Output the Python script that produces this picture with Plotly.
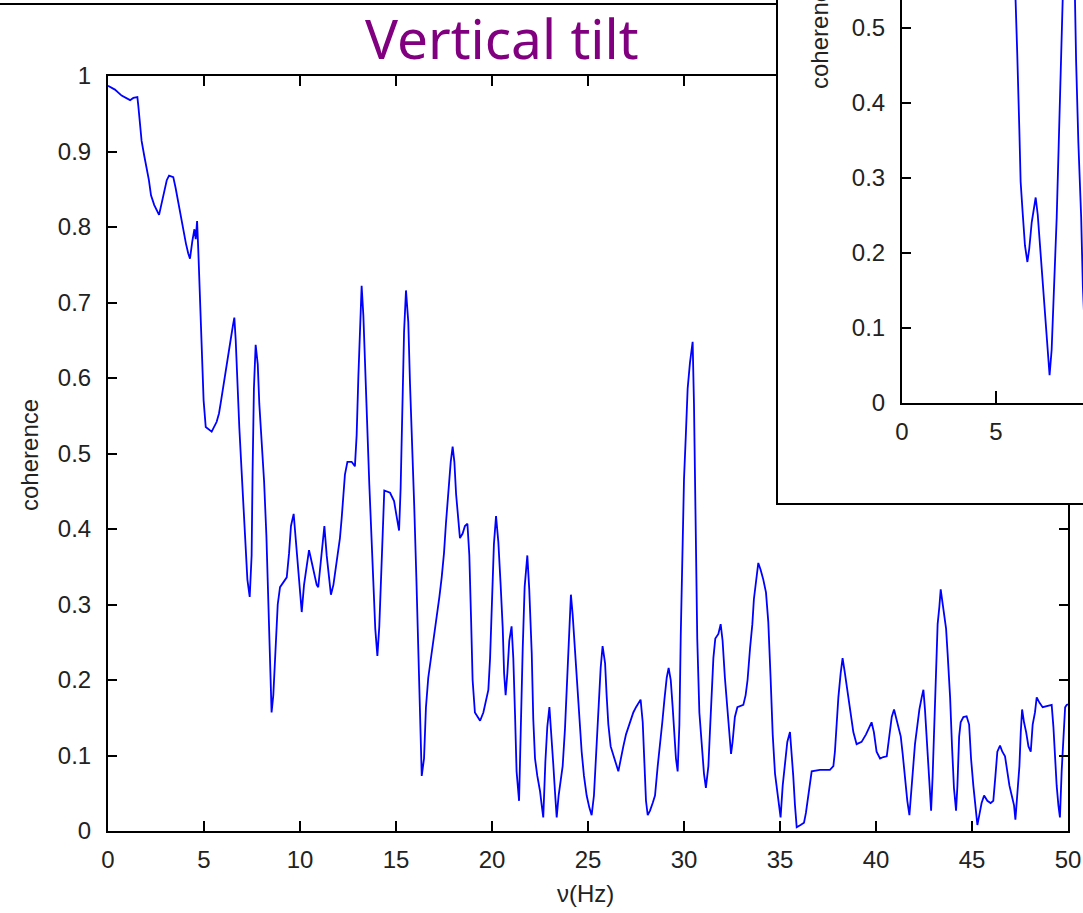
import plotly.graph_objects as go

# ---------------- data ----------------
freq = [0.0, 0.36, 0.71, 1.15, 1.32, 1.53, 1.58, 1.65, 1.75, 1.89, 2.01, 2.13, 2.24, 2.41, 2.66, 2.80,
        2.93, 3.06, 3.18, 3.40, 3.52, 3.66, 3.80, 3.92, 4.06, 4.18, 4.27, 4.39, 4.50, 4.57, 4.64, 4.70,
        4.79, 4.88, 4.98, 5.09, 5.40, 5.66, 5.78, 5.89, 6.00, 6.13, 6.27, 6.39, 6.51, 6.58, 6.65, 6.74,
        6.84, 6.96, 7.05, 7.14, 7.26, 7.38, 7.48, 7.53, 7.60, 7.69, 7.80, 7.88, 8.00, 8.13, 8.25, 8.35,
        8.44, 8.52, 8.61, 8.73, 8.84, 8.96, 9.31, 9.43, 9.53, 9.67, 9.83, 10.0, 10.09, 10.21, 10.35, 10.47,
        10.56, 10.69, 10.87, 10.95, 11.08, 11.18, 11.27, 11.39, 11.51, 11.61, 11.74, 11.86, 11.96, 12.08,
        12.17, 12.26, 12.34, 12.47, 12.69, 12.86, 12.95, 13.04, 13.13, 13.21, 13.30, 13.39, 13.51, 13.61,
        13.70, 13.82, 13.92, 14.03, 14.13, 14.22, 14.31, 14.39, 14.69, 14.90, 15.03, 15.16, 15.24, 15.33,
        15.42, 15.52, 15.64, 15.73, 15.85, 15.95, 16.06, 16.16, 16.25, 16.34, 16.46, 16.56, 16.68, 16.81,
        16.91, 17.03, 17.15, 17.26, 17.38, 17.50, 17.60, 17.73, 17.85, 17.95, 18.04, 18.13, 18.25, 18.33,
        18.47, 18.59, 18.72, 18.82, 18.91, 18.99, 19.11, 19.38, 19.55, 19.67, 19.81, 19.90, 19.98, 20.10,
        20.21, 20.33, 20.45, 20.56, 20.63, 20.71, 20.80, 20.90, 21.02, 21.11, 21.20, 21.28, 21.41, 21.51,
        21.60, 21.70, 21.84, 21.94, 22.07, 22.15, 22.24, 22.36, 22.50, 22.59, 22.67, 22.78, 22.88, 22.99,
        23.07, 23.19, 23.30, 23.37, 23.47, 23.58, 23.68, 23.80, 23.92, 24.03, 24.11, 24.20, 24.32, 24.44,
        24.55, 24.67, 24.79, 24.93, 25.07, 25.19, 25.31, 25.42, 25.54, 25.66, 25.76, 25.89, 25.97, 26.06,
        26.18, 26.32, 26.46, 26.58, 26.70, 26.84, 26.98, 27.10, 27.22, 27.36, 27.50, 27.62, 27.74, 27.85,
        27.93, 28.02, 28.11, 28.23, 28.37, 28.49, 28.63, 28.75, 28.87, 28.98, 29.10, 29.20, 29.31, 29.41,
        29.50, 29.58, 29.67, 29.76, 29.83, 29.91, 30.00, 30.09, 30.19, 30.31, 30.45, 30.52, 30.61, 30.69,
        30.80, 30.92, 31.04, 31.14, 31.27, 31.35, 31.44, 31.53, 31.63, 31.79, 31.91, 32.01, 32.13, 32.26,
        32.36, 32.45, 32.53, 32.65, 32.78, 33.09, 33.21, 33.31, 33.44, 33.56, 33.64, 33.75, 33.87, 33.99,
        34.13, 34.27, 34.39, 34.51, 34.62, 34.74, 34.86, 34.95, 35.03, 35.14, 35.26, 35.38, 35.52, 35.61,
        35.69, 35.78, 35.87, 36.07, 36.25, 36.35, 36.44, 36.53, 36.65, 37.08, 37.60, 37.78, 37.86, 37.95,
        38.04, 38.16, 38.26, 38.38, 38.50, 38.61, 38.73, 38.82, 38.99, 39.25, 39.48, 39.65, 39.77, 39.89,
        40.03, 40.21, 40.38, 40.56, 40.70, 40.82, 40.94, 41.04, 41.17, 41.29, 41.39, 41.51, 41.63, 41.74,
        41.86, 41.95, 42.03, 42.16, 42.26, 42.38, 42.47, 42.55, 42.68, 42.78, 42.87, 42.95, 43.04, 43.13,
        43.21, 43.30, 43.37, 43.46, 43.54, 43.65, 43.73, 43.86, 43.96, 44.06, 44.17, 44.24, 44.33, 44.41,
        44.55, 44.72, 44.85, 44.95, 45.07, 45.19, 45.28, 45.38, 45.50, 45.63, 45.80, 45.97, 46.11, 46.22,
        46.32, 46.46, 46.58, 46.72, 46.84, 46.95, 47.07, 47.19, 47.26, 47.36, 47.47, 47.54, 47.61, 47.71,
        47.82, 47.94, 48.06, 48.16, 48.28, 48.37, 48.51, 48.68, 48.89, 49.15, 49.24, 49.33, 49.41, 49.50,
        49.58, 49.67, 49.76, 49.85, 49.93, 50.0]

coherence = [0.987, 0.982, 0.974, 0.968, 0.971, 0.972, 0.960, 0.937, 0.914, 0.894, 0.878, 0.862, 0.842, 0.829, 0.816, 0.833,
             0.849, 0.862, 0.868, 0.866, 0.852, 0.833, 0.813, 0.794, 0.778, 0.765, 0.758, 0.781, 0.797, 0.784, 0.808, 0.771,
             0.706, 0.638, 0.570, 0.535, 0.529, 0.542, 0.553, 0.570, 0.589, 0.610, 0.631, 0.651, 0.670, 0.680, 0.651, 0.592,
             0.534, 0.476, 0.427, 0.381, 0.333, 0.310, 0.365, 0.476, 0.586, 0.644, 0.618, 0.566, 0.515, 0.463, 0.391, 0.297,
             0.206, 0.157, 0.180, 0.238, 0.300, 0.323, 0.336, 0.368, 0.404, 0.420, 0.372, 0.325, 0.290, 0.326, 0.355, 0.372,
             0.362, 0.346, 0.326, 0.323, 0.359, 0.388, 0.404, 0.365, 0.339, 0.313, 0.326, 0.346, 0.368, 0.388,
             0.414, 0.443, 0.472, 0.489, 0.489, 0.483, 0.524, 0.602, 0.683, 0.722, 0.683, 0.605, 0.531, 0.459,
             0.394, 0.330, 0.268, 0.232, 0.271, 0.342, 0.417, 0.451, 0.448, 0.437, 0.417, 0.398, 0.453, 0.557,
             0.661, 0.716, 0.674, 0.592, 0.509, 0.430, 0.336, 0.232, 0.128, 0.073, 0.096, 0.164, 0.203, 0.226,
             0.243, 0.263, 0.284, 0.310, 0.336, 0.368, 0.407, 0.450, 0.489, 0.509, 0.489, 0.446, 0.407, 0.388,
             0.394, 0.404, 0.407, 0.365, 0.281, 0.200, 0.157, 0.146, 0.157, 0.170, 0.187, 0.229, 0.300, 0.380,
             0.417, 0.383, 0.326, 0.268, 0.209, 0.180, 0.209, 0.252, 0.271, 0.229, 0.154, 0.079, 0.040, 0.161,
             0.242, 0.323, 0.365, 0.320, 0.235, 0.148, 0.096, 0.073, 0.053, 0.034, 0.018, 0.092, 0.138, 0.164,
             0.138, 0.089, 0.044, 0.018, 0.047, 0.066, 0.086, 0.135, 0.203, 0.278, 0.313, 0.287, 0.238, 0.190,
             0.141, 0.105, 0.073, 0.047, 0.031, 0.021, 0.047, 0.105, 0.161, 0.216, 0.245, 0.222, 0.180, 0.141,
             0.112, 0.099, 0.089, 0.079, 0.096, 0.112, 0.128, 0.138, 0.148, 0.157, 0.164, 0.170, 0.174, 0.144,
             0.092, 0.040, 0.021, 0.027, 0.037, 0.047, 0.086, 0.112, 0.144, 0.174, 0.203, 0.216, 0.200, 0.164,
             0.118, 0.096, 0.079, 0.141, 0.258, 0.381, 0.466, 0.521, 0.586, 0.620, 0.648, 0.566, 0.411, 0.255,
             0.157, 0.115, 0.076, 0.057, 0.086, 0.131, 0.180, 0.229, 0.255, 0.261, 0.274, 0.252, 0.203, 0.164,
             0.125, 0.102, 0.118, 0.151, 0.164, 0.167, 0.180, 0.200, 0.242, 0.274, 0.307, 0.333, 0.355, 0.346,
             0.333, 0.316, 0.277, 0.203, 0.128, 0.076, 0.053, 0.034, 0.018, 0.060, 0.089, 0.118, 0.131, 0.105,
             0.073, 0.034, 0.005, 0.008, 0.011, 0.024, 0.040, 0.063, 0.079, 0.081, 0.081, 0.086, 0.105, 0.141,
             0.177, 0.209, 0.229, 0.209, 0.187, 0.164, 0.144, 0.131, 0.115, 0.118, 0.128, 0.138, 0.144, 0.131,
             0.105, 0.096, 0.098, 0.099, 0.125, 0.151, 0.161, 0.151, 0.138, 0.125, 0.102, 0.070, 0.040, 0.021,
             0.060, 0.086, 0.115, 0.141, 0.161, 0.177, 0.187, 0.161, 0.099, 0.060, 0.027, 0.073, 0.135, 0.209,
             0.274, 0.297, 0.320, 0.303, 0.287, 0.268, 0.235, 0.177, 0.112, 0.057, 0.027, 0.060, 0.125, 0.144,
             0.151, 0.152, 0.141, 0.096, 0.060, 0.034, 0.008, 0.021, 0.037, 0.047, 0.040, 0.037, 0.040, 0.073,
             0.105, 0.113, 0.105, 0.099, 0.079, 0.060, 0.047, 0.034, 0.015, 0.053, 0.086, 0.131, 0.161, 0.144,
             0.131, 0.112, 0.105, 0.141, 0.157, 0.177, 0.170, 0.164, 0.165, 0.167, 0.138, 0.092, 0.060, 0.034,
             0.018, 0.079, 0.118, 0.164, 0.167, 0.168]

inset_freq = [5.90, 6.06, 6.13, 6.24, 6.31, 6.42, 6.54, 6.67, 6.77, 6.90, 7.02, 7.11, 7.22, 7.34, 7.46,
              7.59, 7.70, 7.78, 7.85, 7.96, 8.05, 8.14, 8.23, 8.33, 8.44, 8.55, 8.75, 9.00, 9.20, 9.26,
              9.38, 9.53, 9.62, 9.75]
inset_coherence = [0.650, 0.540, 0.466, 0.366, 0.295, 0.253, 0.210, 0.188, 0.206, 0.241, 0.264, 0.274, 0.251, 0.210, 0.170,
                   0.130, 0.093, 0.060, 0.037, 0.071, 0.128, 0.190, 0.248, 0.339, 0.460, 0.540, 0.620, 0.620, 0.540, 0.457,
                   0.348, 0.248, 0.155, 0.080]

main_xticks = [0, 5, 10, 15, 20, 25, 30, 35, 40, 45, 50]
main_yticks = [0, 0.1, 0.2, 0.3, 0.4, 0.5, 0.6, 0.7, 0.8, 0.9, 1]
inset_xticks = [0, 5, 10]
inset_yticks = [0, 0.1, 0.2, 0.3, 0.4, 0.5]

title_text = "Vertical tilt"
ylabel = "coherence"
xlabel = "ν(Hz)"

# ---------------- layout helpers ----------------
W, H = 1083, 913


def px(x):
    return x / W


def py(y):
    return (H - y) / H


TICK_FONT = dict(family="Liberation Sans, Arial, sans-serif", size=24, color="#222222")
LABEL_FONT = dict(family="Liberation Sans, Arial, sans-serif", size=24, color="#222222")

fig = go.Figure()
fig.add_trace(go.Scatter(x=freq, y=coherence, mode="lines",
                         line=dict(color="#0000ff", width=1.8),
                         xaxis="x", yaxis="y", showlegend=False, hoverinfo="skip"))
# empty trace to create the white cover panel of the inset
fig.add_trace(go.Scatter(x=[], y=[], xaxis="x2", yaxis="y2", showlegend=False, hoverinfo="skip"))
fig.add_trace(go.Scatter(x=inset_freq, y=inset_coherence, mode="lines",
                         line=dict(color="#0000ff", width=1.8),
                         xaxis="x3", yaxis="y3", showlegend=False, hoverinfo="skip"))

axis_common = dict(showgrid=False, zeroline=False, showline=True, linecolor="black", linewidth=2,
                   ticks="inside", tickcolor="black", tickwidth=1.5, tickfont=TICK_FONT,
                   automargin=False)
cover_common = dict(showgrid=False, zeroline=False, showline=True, linecolor="black", linewidth=2,
                    showticklabels=False, ticks="", automargin=False, range=[0, 1])

fig.update_layout(
    width=W, height=H,
    margin=dict(l=0, r=0, t=0, b=0, autoexpand=False),
    paper_bgcolor="white", plot_bgcolor="white",
    showlegend=False,
    xaxis=dict(domain=[px(108), px(1068)], range=[0, 50], tickvals=main_xticks,
               ticklen=10, mirror="ticks", anchor="y", ticklabelstandoff=6, **axis_common),
    yaxis=dict(domain=[py(831), py(76)], range=[0, 1], tickvals=main_yticks,
               ticklen=9, mirror="ticks", anchor="x", ticklabelstandoff=10, **axis_common),
    xaxis2=dict(domain=[px(778), 1.0], anchor="y2", **cover_common),
    yaxis2=dict(domain=[py(503), 1.0], anchor="x2", **cover_common),
    xaxis3=dict(domain=[px(902), 1.0], range=[0, (1083 - 902) / 18.8], tickvals=inset_xticks,
                ticklen=12, anchor="y3", ticklabelstandoff=6, **axis_common),
    yaxis3=dict(domain=[py(403), 1.0], range=[0, 403 / 750], tickvals=inset_yticks,
                ticklen=9, anchor="x3", ticklabelstandoff=10, **axis_common),
)

fig.add_shape(type="line", xref="paper", yref="paper", x0=0, x1=px(778), y0=py(4), y1=py(4),
              line=dict(color="black", width=2))

fig.add_annotation(text=title_text, xref="paper", yref="paper", x=px(502), y=py(38),
                   showarrow=False, xanchor="center", yanchor="middle",
                   font=dict(family="Noto Sans, DejaVu Sans, sans-serif", size=55, color="#800080"))
fig.add_annotation(text=ylabel, xref="paper", yref="paper", x=px(30), y=py(455), textangle=-90,
                   showarrow=False, xanchor="center", yanchor="middle", font=LABEL_FONT)
fig.add_annotation(text=xlabel, xref="paper", yref="paper", x=px(585), y=py(893),
                   showarrow=False, xanchor="center", yanchor="middle", font=LABEL_FONT)
fig.add_annotation(text=ylabel, xref="paper", yref="paper", x=px(819), y=py(33), textangle=-90,
                   showarrow=False, xanchor="center", yanchor="middle", font=LABEL_FONT)

fig.write_html("out.html")
